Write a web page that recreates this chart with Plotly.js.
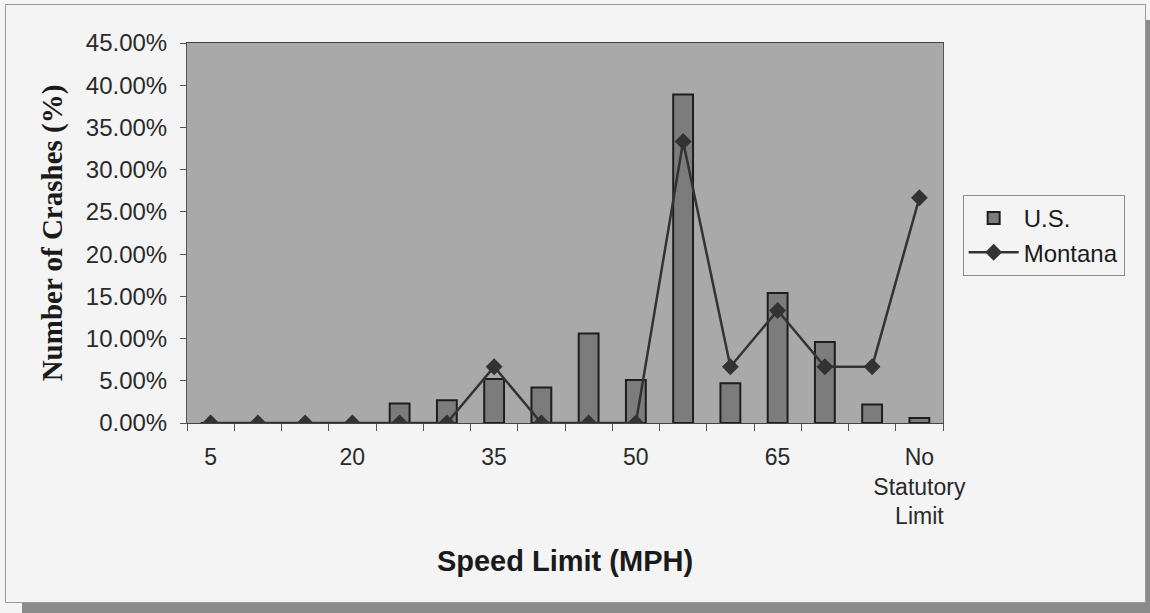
<!DOCTYPE html>
<html>
<head>
<meta charset="utf-8">
<script src="https://cdn.plot.ly/plotly-3.0.1.min.js"></script>
<style>
  html, body { margin: 0; padding: 0; background: #f4f4f4; }
  #wrap { position: relative; width: 1150px; height: 613px; overflow: hidden; background: #f4f4f4; }
  #frame { position: absolute; left: 5px; top: 4px; width: 1139px; height: 597px; border: 1px solid #9a9a9a; }
  #shadowR { position: absolute; left: 1146px; top: 20px; width: 4px; height: 593px; background: #8a8a8a; }
  #shadowB { position: absolute; left: 22px; top: 603px; width: 1128px; height: 10px; background: #8a8a8a; }
  #chart { position: absolute; left: 0; top: 0; width: 1150px; height: 613px; }
</style>
</head>
<body>
<div id="wrap">
  <div id="frame"></div>
  <div id="shadowR"></div>
  <div id="shadowB"></div>
  <div id="chart"></div>
</div>
<script>
const categories = ["5","10","15","20","25","30","35","40","45","50","55","60","65","70","75","No<br>Statutory<br>Limit"];
const usValues = [0, 0, 0, 0, 2.3, 2.7, 5.2, 4.2, 10.6, 5.1, 38.9, 4.7, 15.4, 9.6, 2.2, 0.6];
const montanaValues = [0, 0, 0, 0, 0, 0, 6.67, 0, 0, 0, 33.33, 6.67, 13.33, 6.67, 6.67, 26.67];
const yTickValues = [0, 5, 10, 15, 20, 25, 30, 35, 40, 45];
const yTickLabels = ["0.00%","5.00%","10.00%","15.00%","20.00%","25.00%","30.00%","35.00%","40.00%","45.00%"];
const shownEvery = 3;

const xTickText = categories.map((c, i) => (i % shownEvery === 0 ? c : ""));

const traces = [
  {
    type: "bar",
    name: "U.S.",
    x: categories,
    y: usValues,
    marker: { color: "#7c7c7c", line: { color: "#1e1e1e", width: 2 } },
    hoverinfo: "x+y"
  },
  {
    type: "scatter",
    mode: "lines+markers",
    name: "Montana",
    x: categories,
    y: montanaValues,
    line: { color: "#333333", width: 2.5 },
    marker: { symbol: "diamond", size: 13, color: "#333333" }
  }
];

const layout = {
  width: 1150,
  height: 613,
  margin: { l: 187, r: 207, t: 43, b: 190 },
  paper_bgcolor: "rgba(0,0,0,0)",
  plot_bgcolor: "#a9a9a9",
  bargap: 0.58,
  showlegend: true,
  font: { family: "Liberation Sans, Arial, sans-serif", color: "#2a2a2a" },
  xaxis: {
    type: "category",
    range: [-0.5, categories.length - 0.5],
    autorange: false,
    tickmode: "array",
    tickvals: categories,
    ticktext: xTickText,
    tickangle: 0,
    tickson: "boundaries",
    ticks: "outside",
    ticklen: 7,
    tickcolor: "#555",
    tickfont: { size: 23, color: "#2a2a2a" },
    ticklabelstandoff: 13,
    showline: true,
    linecolor: "#444",
    linewidth: 1,
    mirror: true,
    showgrid: false,
    zeroline: false,
    title: { text: "Speed Limit (MPH)", font: { size: 29, family: "Liberation Sans, Arial, sans-serif", weight: "bold", color: "#1a1a1a" }, standoff: 22 }
  },
  yaxis: {
    range: [0, 45],
    autorange: false,
    tickmode: "array",
    tickvals: yTickValues,
    ticktext: yTickLabels,
    ticks: "outside",
    ticklen: 6,
    tickcolor: "#555",
    tickfont: { size: 24, color: "#2a2a2a" },
    ticklabelstandoff: 8,
    showline: true,
    linecolor: "#555",
    linewidth: 1,
    mirror: true,
    showgrid: false,
    zeroline: false,
    title: { text: "Number of Crashes (%)", font: { size: 29, family: "Liberation Serif, Times New Roman, serif", weight: "bold", color: "#1a1a1a" }, standoff: 14 }
  },
  legend: {
    x: 1.026,
    y: 0.6,
    xanchor: "left",
    yanchor: "top",
    bgcolor: "rgba(0,0,0,0)",
    bordercolor: "#8a8a8a",
    borderwidth: 1,
    font: { size: 24, color: "#1a1a1a" },
    itemwidth: 50,
    tracegroupgap: 0
  }
};

Plotly.newPlot("chart", traces, layout, { displayModeBar: false, staticPlot: true });
</script>
</body>
</html>
